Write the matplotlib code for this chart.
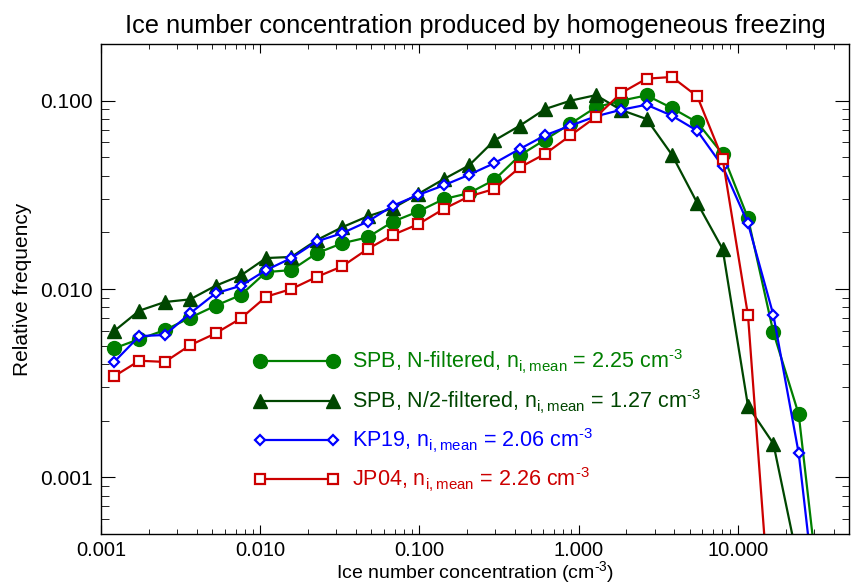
import numpy as np
import matplotlib.pyplot as plt
from matplotlib.ticker import LogLocator, FixedLocator, NullFormatter, FuncFormatter

plt.rcParams.update({
    'font.family': ['Liberation Sans', 'DejaVu Sans'],
    'mathtext.fontset': 'custom',
    'mathtext.rm': 'Liberation Sans',
    'axes.linewidth': 1.0,
})

# Bin centres of the ice number concentration (cm-3)
n_ice = [0.00121, 0.00174, 0.00252, 0.00363, 0.00524, 0.00756, 0.0109,
         0.0157, 0.0227, 0.0328, 0.0473, 0.0683, 0.0985, 0.142, 0.205,
         0.296, 0.427, 0.617, 0.890, 1.284, 1.854, 2.675, 3.861, 5.571,
         8.040, 11.60, 16.74, 24.16, 34.86]

# Relative frequencies
spb_n = [0.00484, 0.00542, 0.00605, 0.00704, 0.00815, 0.00929, 0.0123,
         0.0126, 0.0155, 0.0175, 0.0188, 0.0228, 0.0258, 0.0300, 0.0323,
         0.0380, 0.0512, 0.0621, 0.0755, 0.0922, 0.100, 0.1067, 0.0914,
         0.0767, 0.0520, 0.0238, 0.00589, 0.00216, 0.000143]
spb_n2 = [0.00598, 0.00767, 0.00853, 0.00881, 0.0104, 0.0118, 0.0146,
          0.0148, 0.0182, 0.0213, 0.0243, 0.0269, 0.0320, 0.0383, 0.0453,
          0.0615, 0.0736, 0.0903, 0.100, 0.107, 0.0892, 0.0799, 0.0516,
          0.0286, 0.0163, 0.00239, 0.00151, 0.00034, 0.00004]
kp19 = [0.00410, 0.00562, 0.00570, 0.00743, 0.00948, 0.0104, 0.0126,
        0.0146, 0.0179, 0.0198, 0.0228, 0.0277, 0.0316, 0.0355, 0.0404,
        0.0466, 0.0554, 0.0655, 0.0737, 0.0826, 0.0895, 0.0952, 0.0832,
        0.0692, 0.0448, 0.0223, 0.00728, 0.00134, 0.000089]
jp04 = [0.00344, 0.00416, 0.00410, 0.00503, 0.00581, 0.00698, 0.00910,
        0.0100, 0.0116, 0.0132, 0.0163, 0.0194, 0.0221, 0.0266, 0.0310,
        0.0340, 0.0442, 0.0522, 0.0654, 0.0819, 0.1099, 0.1309, 0.1336,
        0.1054, 0.0490, 0.00724, 0.00011, 0.00001, 0.000001]

labels = [
    r'SPB, N-filtered, n$_{\mathregular{i,mean}}$ = 2.25 cm$^{\text{-3}}$',
    r'SPB, N/2-filtered, n$_{\mathregular{i,mean}}$ = 1.27 cm$^{\text{-3}}$',
    r'KP19, n$_{\mathregular{i,mean}}$ = 2.06 cm$^{\text{-3}}$',
    r'JP04, n$_{\mathregular{i,mean}}$ = 2.26 cm$^{\text{-3}}$',
]

fig = plt.figure(figsize=(8.51, 5.87), dpi=100)
ax = fig.add_axes([101 / 851, 53 / 587, 748 / 851, 490 / 587])

ax.plot(n_ice, spb_n, color='#007f00', lw=1.6, marker='o', ms=10,
        label=labels[0])
ax.plot(n_ice, spb_n2, color='#004600', lw=1.6, marker='^', ms=10.5,
        label=labels[1])
ax.plot(n_ice, kp19, color='#0000ff', lw=1.6, marker='D', ms=5.5,
        mfc='white', mew=1.6, label=labels[2])
ax.plot(n_ice, jp04, color='#cc0000', lw=1.6, marker='s', ms=7.5,
        mfc='white', mew=1.6, label=labels[3])

ax.set_xscale('log')
ax.set_yscale('log')
ax.set_xlim(0.001, 50)
ax.set_ylim(0.0005, 0.2)

fmt = FuncFormatter(lambda v, p: f'{v:.3f}')
ax.xaxis.set_major_locator(FixedLocator([0.001, 0.01, 0.1, 1, 10]))
ax.xaxis.set_major_formatter(fmt)
ax.xaxis.set_minor_locator(LogLocator(base=10, subs=np.arange(2, 10)))
ax.xaxis.set_minor_formatter(NullFormatter())
ax.yaxis.set_major_locator(FixedLocator([0.001, 0.01, 0.1]))
ax.yaxis.set_major_formatter(fmt)
ax.yaxis.set_minor_locator(LogLocator(base=10, subs=np.arange(2, 10)))
ax.yaxis.set_minor_formatter(NullFormatter())

ax.tick_params(axis='x', which='major', direction='in', length=6.8,
               top=True, labelsize=14.5, pad=5)
ax.tick_params(axis='x', which='minor', direction='in', length=3.6, top=True)
ax.tick_params(axis='y', which='major', direction='in', length=10,
               right=True, labelsize=15, pad=6)
ax.tick_params(axis='y', which='minor', direction='in', length=5.4, right=True)

# x label pinned just above the bottom edge of the figure
xl = ax.set_xlabel(r'Ice number concentration (cm$^{\text{-3}}$)', fontsize=14)
xl.set_verticalalignment('bottom')
ax.xaxis.set_label_coords(475 / 851, 1.5 / 587, transform=fig.transFigure)

ax.set_ylabel('Relative frequency', fontsize=15, labelpad=6)
ax.set_title('Ice number concentration produced by homogeneous freezing',
             fontsize=18.3, pad=8)

leg = ax.legend(loc='upper left', bbox_to_anchor=(0.192, 0.397),
                frameon=False, numpoints=2, handlelength=4.0,
                handletextpad=0.6, labelspacing=0.5, fontsize=15.5,
                labelcolor='linecolor', borderaxespad=0)

fig.savefig('out.png', dpi=100)
